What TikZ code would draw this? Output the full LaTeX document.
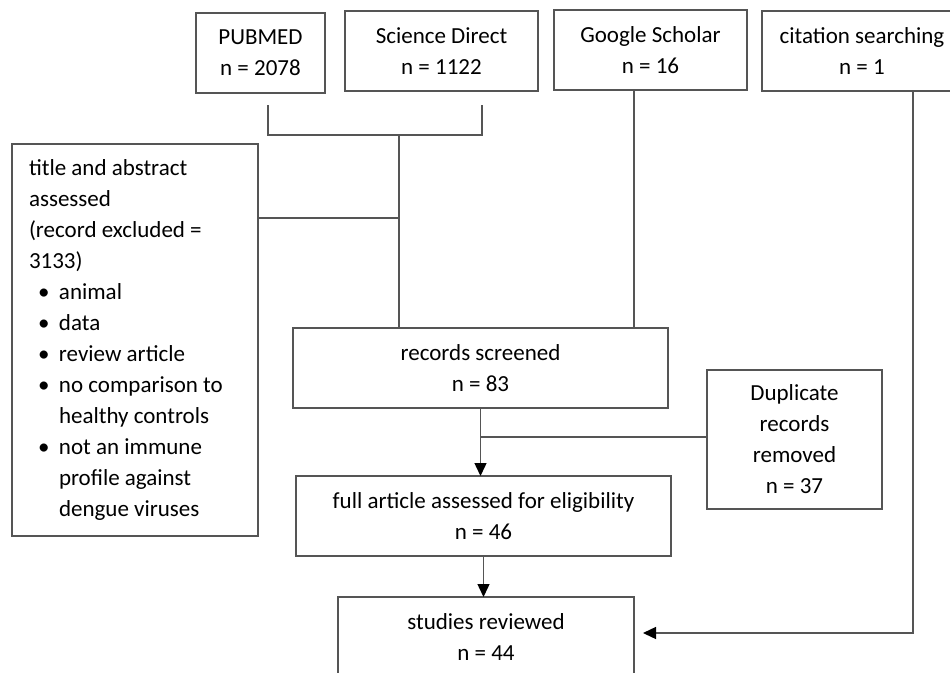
\documentclass[tikz,border=0pt]{standalone}
\usepackage{fontspec}
\setmainfont{Carlito}
\usetikzlibrary{arrows.meta}
\definecolor{linec}{RGB}{85,85,85}
\newcommand\bitem[1]{\makebox[30pt][l]{\hspace{9pt}•}#1}
\newcommand\bcont[1]{\hspace*{30pt}#1}
\begin{document}
\begin{tikzpicture}[x=1pt,y=-1pt,
  box/.style={draw=linec,line width=1.4pt,inner sep=0pt,outer sep=0pt,align=center,
    font={\fontsize{23}{31}\selectfont}},
  conn/.style={draw=linec,line width=1.4pt},
  arr/.style={conn,-{Triangle[length=13pt,width=12pt,color=black]}}]
\useasboundingbox (0,0) rectangle (950,672);
\fill[white] (0,0) rectangle (950,672);
% top sources
\node[box,minimum width=129pt,minimum height=80pt] (pub) at (260.5,53) {PUBMED\\n = 2078};
\node[box,minimum width=193pt,minimum height=80pt] (sd) at (441.5,51) {Science Direct\\n = 1122};
\node[box,minimum width=193pt,minimum height=80pt] (gs) at (650.5,50) {Google Scholar\\n = 16};
\node[box,minimum width=200pt,minimum height=80pt] (cs) at (862,51) {citation searching\\n = 1};
% exclusion box
\node[box,anchor=north west,align=flush left,text width=212pt,inner xsep=17pt,minimum height=392pt] (title) at (12,144)
 {title and abstract\\assessed\\(record excluded =\\3133)\\
  \bitem{animal}\\\bitem{data}\\\bitem{review article}\\\bitem{no comparison to}\\\bcont{healthy controls}\\
  \bitem{not an immune}\\\bcont{profile against}\\\bcont{dengue viruses}};
% main flow
\node[box,minimum width=375pt,minimum height=80pt] (rec) at (480.5,368) {records screened\\n = 83};
\node[box,minimum width=175pt,minimum height=139pt] (dup) at (794.5,439.5) {Duplicate\\records\\removed\\n = 37};
\node[box,minimum width=375pt,minimum height=80pt] (full) at (483.5,516) {full article assessed for eligibility\\n = 46};
\node[box,minimum width=296pt,minimum height=80pt] (stud) at (486,637) {studies reviewed\\n = 44};
% helper coordinates
\coordinate (b1) at (268,105);
\coordinate (b2) at (482,105);
\coordinate (bm) at (399,135);
\coordinate (tj) at (399,218);
\coordinate (gx) at (634,0);
\coordinate (cx) at (913,0);
\coordinate (dj) at (0,437);
\coordinate (sj) at (643,633);
% connectors
\draw[conn] (b1) |- (bm) -| (b2);
\draw[conn] (bm) -- (bm |- rec.north);
\draw[conn] (title.east |- tj) -- (tj);
\draw[conn] (gs.south -| gx) -- (gx |- rec.north);
\draw[arr] (rec.south) -- (rec.south |- full.north);
\draw[conn] (dup.west |- dj) -- (rec.south |- dj);
\draw[arr] (full.south) -- (full.south |- stud.north);
\draw[arr] (cs.south -| cx) |- (sj);
\end{tikzpicture}
\end{document}
